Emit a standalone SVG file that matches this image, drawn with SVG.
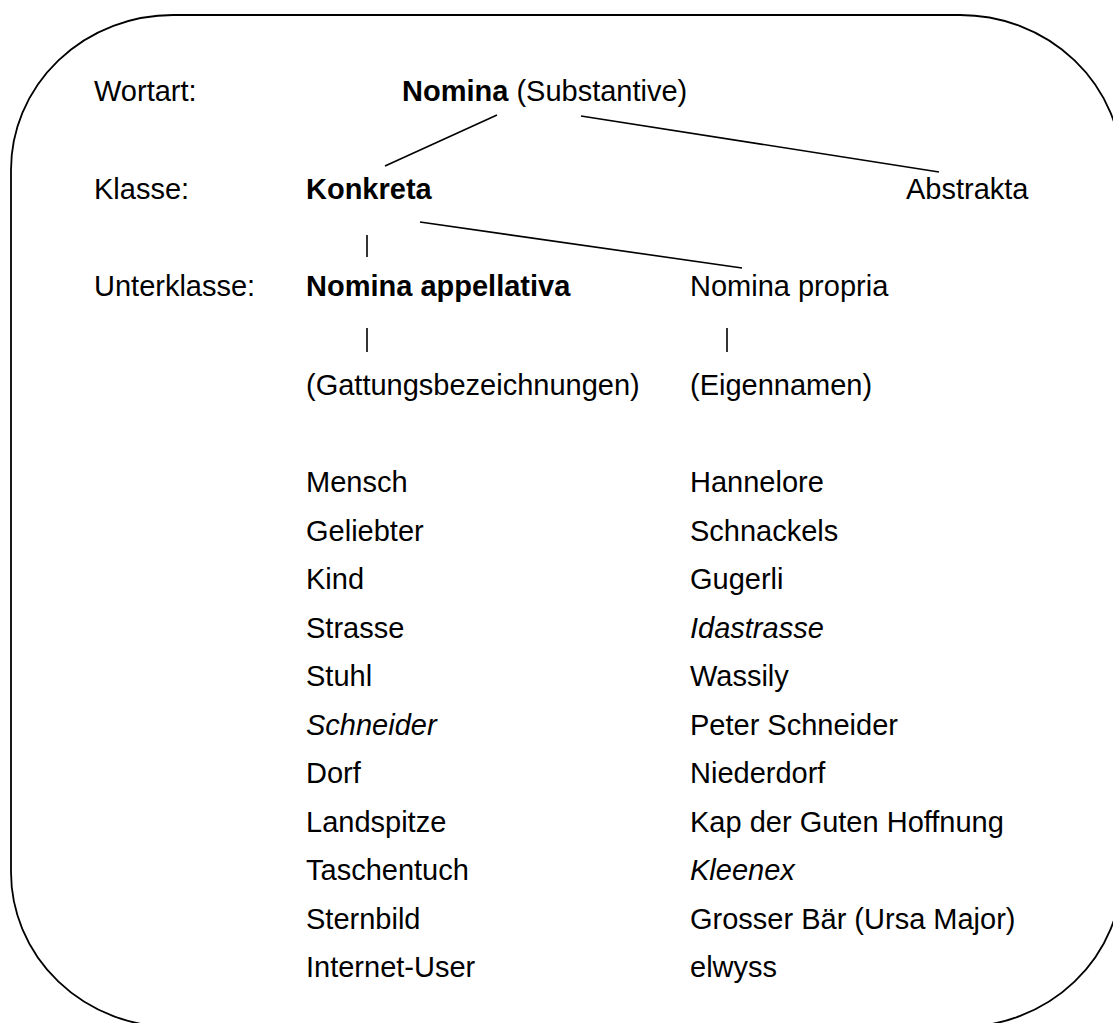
<svg xmlns="http://www.w3.org/2000/svg" width="1113" height="1023" viewBox="0 0 1113 1023">
<style>
text{font-family:"Liberation Sans",Arial,sans-serif;font-size:29px;fill:#000}
.b{font-weight:bold}
.i{font-style:italic}
.ln{stroke:#000;stroke-width:1.6;fill:none}
</style>
<rect x="0" y="0" width="1113" height="1023" fill="#fff"/>
<g id="frame"><rect x="11" y="15" width="1111" height="1012" rx="162" ry="155" fill="none" stroke="#000" stroke-width="1.8"/></g>
<g id="labels">
<text x="94" y="101">Wortart:</text>
<text x="94" y="199">Klasse:</text>
<text x="94" y="296">Unterklasse:</text>
</g>
<g id="connectors">
<line class="ln" x1="497" y1="115" x2="385" y2="166"/>
<line class="ln" x1="581" y1="116" x2="939" y2="172"/>
<line class="ln" x1="420" y1="222" x2="742" y2="268"/>
<line class="ln" x1="367" y1="235" x2="367" y2="257"/>
<line class="ln" x1="367" y1="328" x2="367" y2="352"/>
<line class="ln" x1="727" y1="328" x2="727" y2="352"/>
</g>
<g id="n-nomina"><text x="402" y="101"><tspan class="b">Nomina</tspan> (Substantive)</text></g>
<g id="n-konkreta"><text class="b" x="306" y="199">Konkreta</text></g>
<g id="n-abstrakta"><text x="906" y="199">Abstrakta</text></g>
<g id="n-appellativa"><text class="b" x="306" y="296">Nomina appellativa</text></g>
<g id="n-propria"><text x="690" y="296">Nomina propria</text></g>
<g id="n-gattung"><text x="306" y="395">(Gattungsbezeichnungen)</text></g>
<g id="n-eigen"><text x="690" y="395">(Eigennamen)</text></g>
<g id="list-appellativa">
<text x="306" y="492">Mensch</text>
<text x="306" y="541">Geliebter</text>
<text x="306" y="589">Kind</text>
<text x="306" y="638">Strasse</text>
<text x="306" y="686">Stuhl</text>
<text class="i" x="306" y="735">Schneider</text>
<text x="306" y="783">Dorf</text>
<text x="306" y="832">Landspitze</text>
<text x="306" y="880">Taschentuch</text>
<text x="306" y="929">Sternbild</text>
<text x="306" y="977">Internet-User</text>
</g>
<g id="list-propria">
<text x="690" y="492">Hannelore</text>
<text x="690" y="541">Schnackels</text>
<text x="690" y="589">Gugerli</text>
<text class="i" x="690" y="638">Idastrasse</text>
<text x="690" y="686">Wassily</text>
<text x="690" y="735">Peter Schneider</text>
<text x="690" y="783">Niederdorf</text>
<text x="690" y="832">Kap der Guten Hoffnung</text>
<text class="i" x="690" y="880">Kleenex</text>
<text x="690" y="929">Grosser Bär (Ursa Major)</text>
<text x="690" y="977">elwyss</text>
</g>
</svg>
